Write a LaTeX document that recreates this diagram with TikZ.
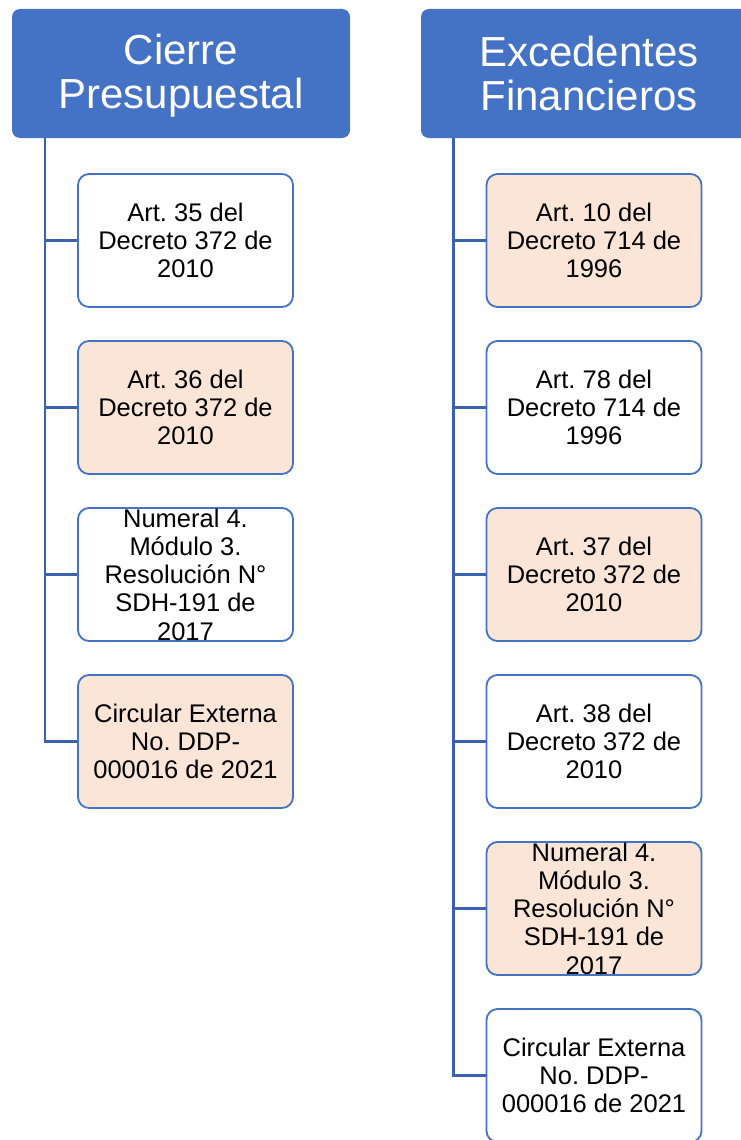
\documentclass[tikz,border=0pt]{standalone}
\usepackage{fontspec}
\setmainfont{Liberation Sans}
\frenchspacing
\definecolor{hdr}{HTML}{4472C4}
\definecolor{conn}{HTML}{3B62B0}
\definecolor{peach}{HTML}{FBE5D6}
\tikzset{
  header/.style={fill=hdr, rounded corners=8pt, minimum width=338pt, minimum height=129pt, inner sep=0pt},
  headtext/.style={text=white, font=\fontsize{42}{44}\selectfont, align=center, inner sep=0pt},
  leaf/.style={draw=hdr, line width=1.8pt, rounded corners=11pt, minimum width=215pt, minimum height=133pt, inner sep=0pt},
  white leaf/.style={leaf, fill=white},
  peach leaf/.style={leaf, fill=peach},
  leaftext/.style={font=\fontsize{25.5}{28.3}\selectfont, align=center, inner sep=0pt},
  link/.style={draw=conn, line width=2.6pt}
}
\begin{document}
\begin{tikzpicture}[x=1pt, y=-1pt]
\useasboundingbox (0,0) rectangle (741,1140);
\begin{scope}
\clip (0,0) rectangle (741,1140);
% headers
\node[header] (h1) at (181,73.5) {};
\node[headtext] (h1t) at (181,76) {Cierre\\Presupuestal};
\node[header] (h2) at (590,73.5) {};
\node[headtext] (h2t) at (589,73.5) {Excedentes\\Financieros};

% left column
\coordinate (l0) at (45,138);
\node[white leaf] (a1) at (185.5,240.5) {};
\node[peach leaf] (a2) at (185.5,407.5) {};
\node[white leaf] (a3) at (185.5,574.5) {};
\node[peach leaf] (a4) at (185.5,741.5) {};
\node[leaftext] (a1t) at (a1.center) {Art. 35 del\\Decreto 372 de\\2010};
\node[leaftext] (a2t) at (a2.center) {Art. 36 del\\Decreto 372 de\\2010};
\node[leaftext] (a3t) at (a3.center) {Numeral 4.\\Módulo 3.\\Resolución N°\\SDH-191 de\\2017};
\node[leaftext] (a4t) at (a4.center) {Circular Externa\\No. DDP-\\000016 de 2021};
\draw[link] (l0) |- (a4.west);
\foreach \n in {a1,a2,a3}{\draw[link] (l0 |- \n.west) -- (\n.west);}

% right column
\coordinate (r0) at (453.5,138);
\node[peach leaf] (b1) at (594,240.5) {};
\node[white leaf] (b2) at (594,407.5) {};
\node[peach leaf] (b3) at (594,574.5) {};
\node[white leaf] (b4) at (594,741.5) {};
\node[peach leaf] (b5) at (594,908.5) {};
\node[white leaf] (b6) at (594,1075.5) {};
\node[leaftext] (b1t) at (b1.center) {Art. 10 del\\Decreto 714 de\\1996};
\node[leaftext] (b2t) at (b2.center) {Art. 78 del\\Decreto 714 de\\1996};
\node[leaftext] (b3t) at (b3.center) {Art. 37 del\\Decreto 372 de\\2010};
\node[leaftext] (b4t) at (b4.center) {Art. 38 del\\Decreto 372 de\\2010};
\node[leaftext] (b5t) at (b5.center) {Numeral 4.\\Módulo 3.\\Resolución N°\\SDH-191 de\\2017};
\node[leaftext] (b6t) at (b6.center) {Circular Externa\\No. DDP-\\000016 de 2021};
\draw[link] (r0) |- (b6.west);
\foreach \n in {b1,b2,b3,b4,b5}{\draw[link] (r0 |- \n.west) -- (\n.west);}
\end{scope}
\end{tikzpicture}
\end{document}
